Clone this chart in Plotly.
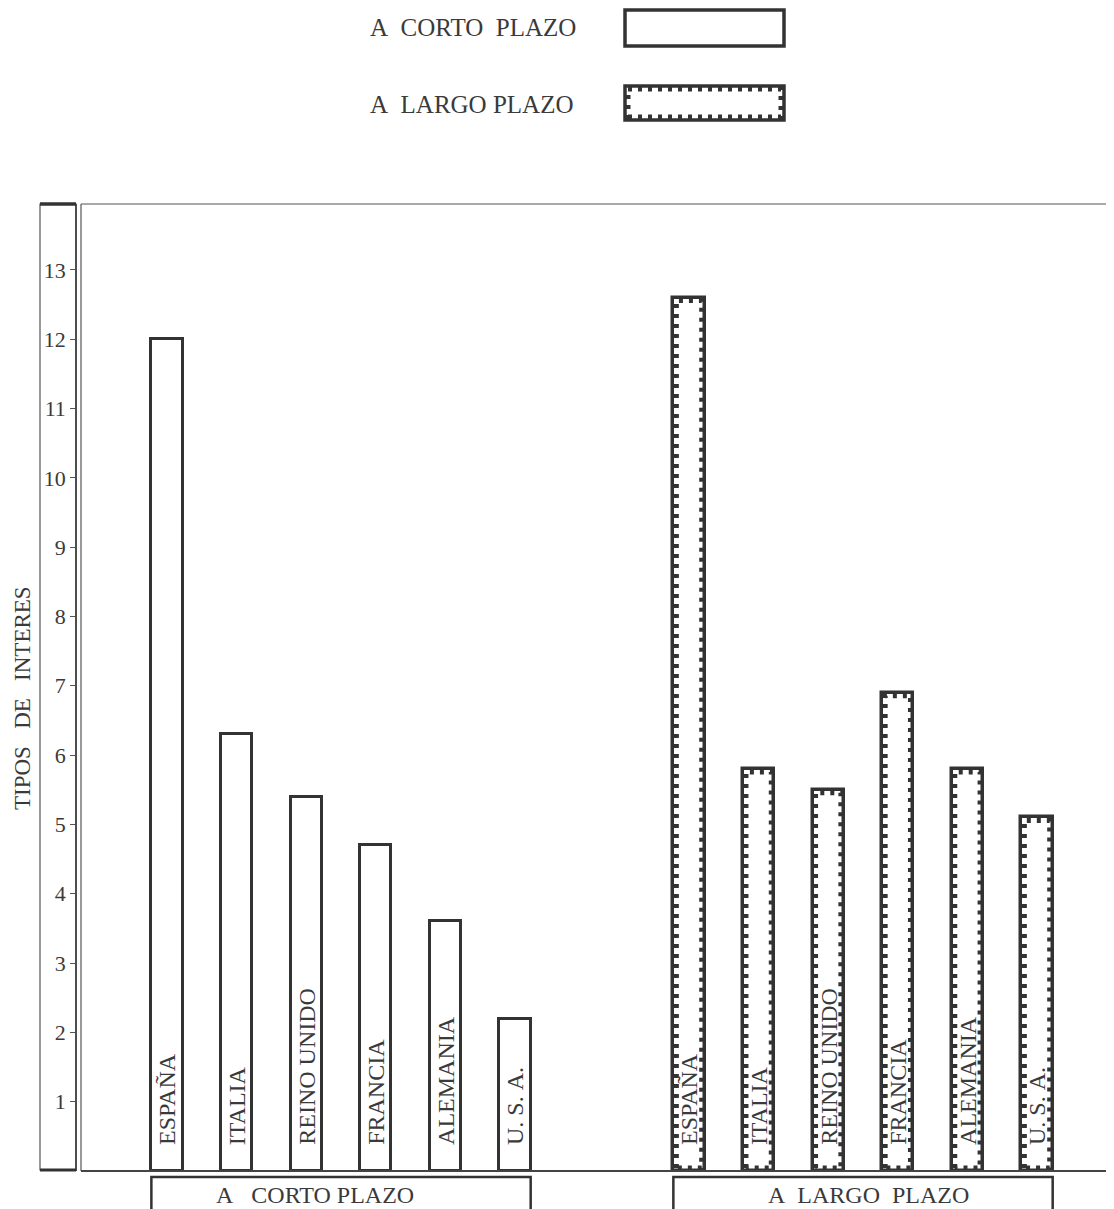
import plotly.graph_objects as go

# ---------------- data ----------------
countries = ["ESPAÑA", "ITALIA", "REINO UNIDO", "FRANCIA", "ALEMANIA", "U.\u00a0S.\u00a0A."]
short_term = [12.0, 6.3, 5.4, 4.7, 3.6, 2.2]   # A CORTO PLAZO
long_term = [12.6, 5.8, 5.5, 6.9, 5.8, 5.1]    # A LARGO PLAZO
group_names = ["A\u00a0\u00a0 CORTO PLAZO", "A\u00a0 LARGO\u00a0 PLAZO"]
legend_names = ["A\u00a0 CORTO\u00a0 PLAZO", "A\u00a0 LARGO PLAZO"]
y_ticks = list(range(1, 14))
y_title = "TIPOS\u00a0\u00a0 DE\u00a0\u00a0 INTERES"

# ---------------- layout constants ----------------
OFF = 8                      # default page margin of the html body
W, H = 1114 - OFF, 1209 - OFF
ML, MR, MT, MB = 32, 0, 196, 38
PW, PH = W - ML - MR, H - MT - MB
GROUP_GAP = 7.5
BAR_W = 0.45
INK = "#333333"
TXT = "#3a3a3a"
FONT = "Liberation Serif, Times New Roman, serif"
X_RANGE = [-1.236, 13.606]
Y_RANGE = [0, 13.95]


def px_x(p):
    """reference page pixel -> paper x"""
    return (p - OFF - ML) / PW


def px_y(p):
    """reference page pixel -> paper y"""
    return (MT + PH - (p - OFF)) / PH


pos_short = [i for i in range(len(countries))]
pos_long = [GROUP_GAP + i for i in range(len(countries))]

fig = go.Figure()

fig.add_trace(go.Bar(x=pos_short, y=short_term, width=BAR_W, name=legend_names[0],
                     marker=dict(color="white", line=dict(color=INK, width=3)),
                     showlegend=False, hoverinfo="y"))
fig.add_trace(go.Bar(x=pos_long, y=long_term, width=BAR_W, name=legend_names[1],
                     marker=dict(color="white", line=dict(color=INK, width=3.5)),
                     showlegend=False, hoverinfo="y"))

# perforated inner border of the long-term bars
x_unit = PW * (1 - px_x(81)) / (X_RANGE[1] - X_RANGE[0])
y_unit = PH / (Y_RANGE[1] - Y_RANGE[0])
ins_x = 3.0 / x_unit
ins_y = 3.0 / y_unit
px_, py_ = [], []
for c, v in zip(pos_long, long_term):
    l, r = c - BAR_W / 2 + ins_x, c + BAR_W / 2 - ins_x
    b, t = ins_y, v - ins_y
    px_ += [l, l, r, r, l, None]
    py_ += [b, t, t, b, b, None]
fig.add_trace(go.Scatter(x=px_, y=py_, mode="lines",
                         line=dict(color=INK, width=5, dash="4px,6px"),
                         showlegend=False, hoverinfo="skip"))

annotations = []
# country labels inside bars
for positions in (pos_short, pos_long):
    for c, name in zip(positions, countries):
        annotations.append(dict(x=c, y=0, xref="x", yref="y", text=name,
                                textangle=-90, showarrow=False,
                                xanchor="center", yanchor="bottom", yshift=24,
                                font=dict(family=FONT, size=24, color=TXT)))

shapes = []
# group label boxes beneath the axis
for positions, gname, shift in zip((pos_short, pos_long), group_names, (-26, 5)):
    x0 = positions[0] - BAR_W / 2
    x1 = positions[-1] + BAR_W / 2
    shapes.append(dict(type="rect", xref="x", yref="paper", x0=x0, x1=x1,
                       y0=px_y(1225), y1=px_y(1177),
                       line=dict(color=INK, width=2.5), fillcolor="white"))
    annotations.append(dict(x=(x0 + x1) / 2, y=px_y(1195), xref="x", yref="paper",
                            text=gname, showarrow=False, xanchor="center", yanchor="middle",
                            xshift=shift,
                            font=dict(family=FONT, size=24, color=TXT)))

# left tick strip
shapes.append(dict(type="rect", xref="paper", yref="paper", x0=px_x(40), x1=px_x(76),
                   y0=px_y(1170), y1=px_y(204), line=dict(color="#555", width=1.2)))
shapes.append(dict(type="line", xref="paper", yref="paper", x0=px_x(40), x1=px_x(76),
                   y0=px_y(204), y1=px_y(204), line=dict(color=INK, width=3.5)))
shapes.append(dict(type="line", xref="paper", yref="paper", x0=px_x(40), x1=px_x(76),
                   y0=px_y(1170), y1=px_y(1170), line=dict(color=INK, width=3)))
# plot frame
shapes.append(dict(type="line", xref="paper", yref="paper", x0=px_x(81), x1=px_x(81),
                   y0=0, y1=1, line=dict(color="#555", width=1.2)))
shapes.append(dict(type="line", xref="paper", yref="paper", x0=px_x(81), x1=1,
                   y0=1, y1=1, line=dict(color="#555", width=1.2)))
shapes.append(dict(type="line", xref="paper", yref="paper", x0=px_x(81), x1=1,
                   y0=0, y1=0, line=dict(color="#444", width=2)))

# legend
leg = [(legend_names[0], 28, 10, 46, False), (legend_names[1], 104, 86, 120, True)]
for text, ty, by0, by1, perforated in leg:
    annotations.append(dict(x=px_x(368), y=px_y(ty), xref="paper", yref="paper",
                            text=text, showarrow=False, xanchor="left", yanchor="middle",
                            font=dict(family=FONT, size=25, color=TXT)))
    shapes.append(dict(type="rect", xref="paper", yref="paper",
                       x0=px_x(625), x1=px_x(784), y0=px_y(by1), y1=px_y(by0),
                       line=dict(color=INK, width=3.5)))
    if perforated:
        shapes.append(dict(type="rect", xref="paper", yref="paper",
                           x0=px_x(628), x1=px_x(781), y0=px_y(by1 - 3), y1=px_y(by0 + 3),
                           line=dict(color=INK, width=5, dash="4px,6px")))

# y axis title
annotations.append(dict(x=px_x(22), y=px_y(698), xref="paper", yref="paper",
                        text=y_title, textangle=-90, showarrow=False,
                        xanchor="center", yanchor="middle",
                        font=dict(family=FONT, size=23, color=TXT)))

fig.update_layout(
    width=W, height=H,
    margin=dict(l=ML, r=MR, t=MT, b=MB),
    paper_bgcolor="white", plot_bgcolor="white",
    bargap=0,
    xaxis=dict(domain=[px_x(81), 1], range=X_RANGE, showticklabels=False,
               showgrid=False, zeroline=False, showline=False, ticks=""),
    yaxis=dict(anchor="free", position=px_x(76), range=Y_RANGE,
               tickvals=y_ticks, ticktext=[str(t) for t in y_ticks],
               ticks="outside", ticklen=5, tickwidth=1.2, tickcolor="#555",
               showline=True, linecolor="#444", linewidth=1.5,
               showgrid=False, zeroline=False,
               tickfont=dict(family=FONT, size=22, color=TXT)),
    shapes=shapes,
    annotations=annotations,
)

fig.write_html("out.html")
